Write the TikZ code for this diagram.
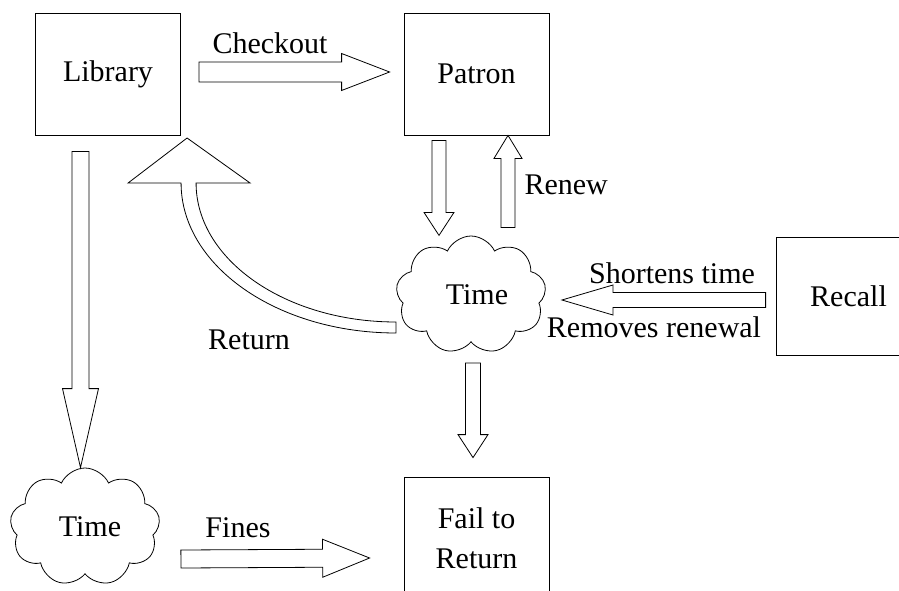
\documentclass[tikz,border=0pt]{standalone}
\usepackage{fontspec}
\setmainfont{Liberation Serif}
\usetikzlibrary{calc,shapes.symbols}

\tikzset{
    every node/.style={font=\fontsize{30}{34}\selectfont},
    box/.style={draw,line width=0.8pt,inner sep=0,minimum width=145,minimum height=122},
    timecloud/.style={draw,cloud,cloud puffs=9,cloud puff arc=130,aspect=1.27,
        line width=0.8pt,inner sep=0,minimum width=150,minimum height=118},
    blockarrow/.style={draw,fill=white,line width=0.8pt,line join=miter}
}

% hollow block arrow: from, to, shaft half width, head half width, head length
\newcommand{\fatarrow}[5]{%
    \coordinate (fa-s) at (#1);
    \coordinate (fa-t) at (#2);
    \coordinate (fa-h) at ($(fa-t)!#5pt!(fa-s)$);
    \draw[blockarrow] ($(fa-s)!#3pt!90:(fa-t)$) -- ($(fa-h)!#3pt!90:(fa-t)$)
        -- ($(fa-h)!#4pt!90:(fa-t)$) -- (fa-t) -- ($(fa-h)!#4pt!-90:(fa-t)$)
        -- ($(fa-h)!#3pt!-90:(fa-t)$) -- ($(fa-s)!#3pt!-90:(fa-t)$) -- cycle;
}

\begin{document}
\begin{tikzpicture}[x=1pt,y=-1pt]
    \useasboundingbox (0,0) rectangle (899,591);
    \clip (0,0) rectangle (899,591);
    \fill[white] (0,0) rectangle (899,591);

    \node[box] (library) at (108,74) {Library};
    \node[box] (patron) at (476.5,74) {Patron};
    \node[box,minimum height=118] (recall) at (848.5,296) {Recall\hspace{9pt}};
    \node[box,align=center,font=\fontsize{30}{40}\selectfont] (fail) at (476.5,538) {Fail to\\Return};
    \node[timecloud] (time) at (471,295) {\hspace{12pt}Time};
    \node[timecloud] (time2) at (85,527) {\hspace{10pt}Time};

    % straight arrows
    \fatarrow{[shift={(18,-2)}]library.east}{[shift={(-14,-2)}]patron.west}{10}{18.5}{48}
    \fatarrow{[shift={(-37.5,5)}]patron.south}{[shift={(-37.5,100)}]patron.south}{7}{15}{23}
    \fatarrow{[shift={(31.5,92)}]patron.south}{[xshift=31.5]patron.south}{7}{14}{23}
    \fatarrow{[shift={(-10,4)}]recall.west}{[shift={(17,5)}]time.east}{7.5}{15}{51}
    \fatarrow{[shift={(2,68)}]time.center}{[shift={(-3.5,-19)}]fail.north}{7.5}{15}{23}
    \fatarrow{[shift={(-27.5,16)}]library.south}{[shift={(-4.5,0)}]time2.north}{8.5}{18}{79}
    \fatarrow{[shift={(22,32)}]time2.east}{[shift={(-34,20)}]fail.west}{9}{19}{47}

    % curved return arrow
    \draw[blockarrow] ([shift={(-1,27)}]time.west)
        arc[start angle=90,end angle=180,x radius=200,y radius=139]
        -- ++(54,0) -- ++(-63,-45) -- ++(-59,45) -- ++(53,0)
        arc[start angle=180,end angle=90,x radius=215,y radius=150] -- cycle;

    \node (checkout) at (270,43) {Checkout};
    \node[anchor=west] (renew) at (521,185) {Renew};
    \node (shortens) at (672,273) {Shortens time};
    \node (removes) at (654,327) {Removes renewal};
    \node (return) at (249,340) {Return};
    \node (fines) at (238,528) {Fines};
\end{tikzpicture}
\end{document}
